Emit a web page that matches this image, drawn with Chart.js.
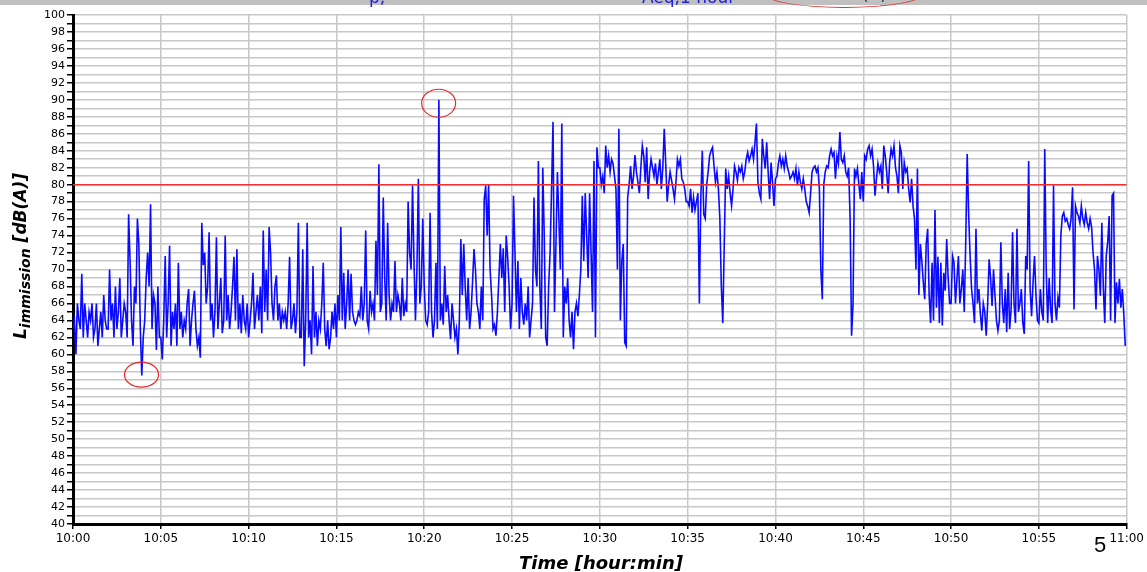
<!DOCTYPE html>
<html><head><meta charset="utf-8">
<script src="https://cdn.jsdelivr.net/npm/chart.js@4"></script>
<style>
html,body{margin:0;padding:0;background:#fff;}
#wrap{position:relative;width:1147px;height:572px;overflow:hidden;background:#fff;}
#band{position:absolute;left:0;top:0;width:1147px;height:5px;background:#c0c0c0;}
#c{position:absolute;left:0;top:0;}
.hdr{position:absolute;font-family:"DejaVu Sans",sans-serif;font-size:17px;line-height:17px;white-space:nowrap;color:#2020e0;}
#oval{position:absolute;left:763px;top:-22px;width:160px;height:28px;border:1.5px solid #e03030;border-radius:50%;}
#ytitle{position:absolute;left:-80px;top:246px;width:200px;height:20px;line-height:20px;text-align:center;transform:rotate(-90deg);font-family:"DejaVu Sans",sans-serif;font-weight:bold;font-style:italic;font-size:17px;color:#000;white-space:nowrap;}
#ytitle sub{font-size:14px;vertical-align:-4px;}
#xtitle{position:absolute;left:401px;top:554px;width:400px;text-align:center;line-height:18px;font-family:"DejaVu Sans",sans-serif;font-weight:bold;font-style:italic;font-size:18px;color:#000;white-space:nowrap;}
#page{position:absolute;left:1094px;top:533px;font-family:"Liberation Sans",Arial,sans-serif;font-size:22px;line-height:24px;color:#000;}
</style></head>
<body><div id="wrap">
<div id="band"></div>
<canvas id="c" width="1147" height="572"></canvas>
<div class="hdr" style="left:369px;top:-11px;">p,</div>
<div class="hdr" style="left:642px;top:-11px;">Aeq,1 hour</div>
<div class="hdr" style="left:862px;top:-14px;color:#303060;">(A)</div>
<div id="oval"></div>
<div id="ytitle">L<sub>immission</sub> [dB(A)]</div>
<div id="xtitle">Time [hour:min]</div>
<div id="page">5</div>
</div>
<script>
// Sound level L (dB(A)), one value every 5 s, grouped in 5-minute blocks
const seg1000 = [63,64,60,66,64,63,69.5,62,66,64,62,65, 64,66,62,63,66,61,63,65,62,67,64,63, 63,70,64,66,62,68,63,65,69,62,64,66, 65,62,76.5,71,64,61,68,66,76,73,63,57.5, 62,64,69,72,68,77.7,63,67,66,60.5,68,62];
const seg1005 = [62,59.4,64,71.6,62,66,72.8,61,65,63,66,61, 70.8,63,65,62,64,63,66,67.7,61,64,66,67.5, 63,61,62,59.6,75.5,70.5,72,66,68,74.4,64,66, 62,65,73.8,63,66,69,62.5,64,74,64,67,63, 65,68,71.5,64,72.4,63,66,62.5,67,64,63,66];
const seg1010 = [62,64,66,69.6,63,65,67,64,68,62.5,74.6,65, 70,64,75,72,66,64,68,69.3,64,66,63,65, 64,65,63,66,71.5,63,64,66,62.5,65,75.5,62, 62,72.4,58.6,64,75.5,62,64,60,70.4,62,65,61, 64,63,66,70.8,63,61,64,60.6,62,65,63,66];
const seg1015 = [62,67,64,75,64,69.6,63,66,70,64,69.5,65, 64,63.5,64,65,64.5,68,64,66,74.6,64,63,67.5, 65,66,64,73.4,67,82.4,65,66,78.5,69,64,75.5, 67,64,66,65,71,65,67,66,64,69,64.5,66, 65,78,72,70,79.9,71,64,70,80.7,66,68,76];
const seg1020 = [68,64,63.5,65,76.7,65,62,64,70.8,63,90,64, 66,63.5,70.4,65,67,64,61.8,66,64,62,63,60, 64,73.6,67,73,68,64,69,63,65,68.5,72.4,70, 66,65,63,68,64,78.3,79.9,74,80,70,67,63, 63.5,62.2,65,69,73,69,72.5,65,74,71.5,68,63];
const seg1025 = [66,78.7,72,65,71,63,69,65,63.5,66,64,68, 62,64,66,78.5,70,68,82.8,68,63,82,74,62, 61,68,72,79.5,87.4,65,73,81.5,76,70,87.2,62, 68,66,69,64,62,65,60.6,65,66,64.5,67,70, 78.7,71,79,74,69,79,72,65,82.8,62,84.4,82];
const seg1030 = [82,80,81,79,84.6,82,83.4,81.5,83,82.5,81,79.5, 70,86.6,64,71,73,61.4,61,78.5,80,82.2,79.5,81, 83.5,81.5,80.3,79,82,84.6,83.4,80.3,84.4,78.3,81.5,83, 82,81,82.5,80,81.5,83,79.5,82,86.6,82.5,78,80, 81.5,80.5,79.5,78.3,80.3,83,82.2,83,80.7,80.3,79.5,78];
const seg1035 = [78,77.5,79.5,76.7,78.5,77,78,79,66,78.5,84,76.5, 76,80,81.5,83.4,84,84.4,82.2,80.3,81.5,79.5,76,68, 63.7,73,81.9,79.5,81,79,77.5,79.5,82.2,81.5,80.5,82, 81.5,82.2,80.7,81.5,83,83.8,82.8,83.4,84.2,83,85,87.2, 80.3,79,78.3,85.4,83.4,81.9,85,81.5,78.3,82.6,80.3,77.5];
const seg1040 = [80.7,81,82.5,83.4,82.2,83,81.9,83.4,82.2,81.5,80.7,81, 81.5,80.7,81.9,79.9,81.5,80.3,79.5,80.7,79.5,78,77.5,76.7, 79,81.5,82,82.2,81.5,82,79.5,70,66.5,80,81.5,82.2, 82,83.4,84.2,83.4,83.8,80.7,83.4,82.5,86.2,83,82.6,83.4, 81.5,81,82,76,62.2,66,81.9,81,81.9,80,78.3,81.5];
const seg1045 = [78,83.4,83,84.2,84.6,83.4,84.2,82.2,78.7,80.7,82.5,81.5, 82.2,79.5,84.6,83.4,81.5,79,82.6,84.2,83.4,84.6,82,81, 79,84.6,83.8,79.5,82.6,81.5,81.9,79.5,77.9,80.7,77.5,76, 70,81.9,67,73,71,68.5,66.5,73,74.8,67,63.7,70.8, 64,77,65.5,71.5,63.7,70.8,63.4,69.6,67.5,73.6,69,66];
const seg1050 = [66,71.6,70.8,66,68.9,71.6,66,67.7,70,65,73.2,83.6, 76.5,71.6,67.7,66,63.7,74.8,66,67.7,64.8,62.8,66,65, 62.2,66,71.2,69,65.7,70,66.9,64,62.8,64,73.2,66, 63.7,67.7,62.6,69.6,63,65.3,74.4,66,63.7,74.8,65,66, 67.7,63.7,62.4,71.6,70,82.8,67.7,64.5,68.5,71.6,67,64];
const seg1055 = [63.7,67.7,65,64,84.2,70,63.7,69,65.3,63.7,79.9,66, 64,66.7,65.5,74,76.3,76.7,75.7,76,75.3,74.8,76,79.7, 65.3,77.5,76.7,76.3,75.5,77.5,76,75.3,76.7,75.5,74.8,76, 75,72,70,65.3,71.6,70,66.9,75.5,68,63.7,71.6,73.2, 76.3,64,78.7,79,63.7,68.5,66,68.9,65.5,67.7,64.8,61];

const stepSeconds = 5;
const limitLevel = 80;
const xTickLabels = ['10:00','10:05','10:10','10:15','10:20','10:25','10:30','10:35','10:40','10:45','10:50','10:55','11:00'];
const markedPoints = [{x:3.9, y:57.6, rx:17, ry:12.5}, {x:20.82, y:89.6, rx:17, ry:14}];

const levels = [].concat(seg1000,seg1005,seg1010,seg1015,seg1020,seg1025,seg1030,seg1035,seg1040,seg1045,seg1050,seg1055);
const levelPoints = levels.map((v,i)=>({x:i*stepSeconds/60, y:v}));
const limitPoints = [{x:0,y:limitLevel},{x:60,y:limitLevel}];

const ellipsePlugin = {
  id:'ellipses',
  afterDatasetsDraw(chart){
    const {ctx, scales:{x,y}} = chart;
    ctx.save();
    ctx.strokeStyle = '#e82828';
    ctx.lineWidth = 1.2;
    markedPoints.forEach(p=>{
      ctx.beginPath();
      ctx.ellipse(x.getPixelForValue(p.x), y.getPixelForValue(p.y), p.rx, p.ry, 0, 0, Math.PI*2);
      ctx.stroke();
    });
    ctx.restore();
  }
};

new Chart(document.getElementById('c'), {
  type:'line',
  data:{datasets:[
    {data:limitPoints, borderColor:'#ee3030', borderWidth:1.5, pointRadius:0, order:0},
    {data:levelPoints, borderColor:'#0a0aff', borderWidth:1.6, pointRadius:0, tension:0, order:1}
  ]},
  options:{
    responsive:false, animation:false, events:[],
    layout:{padding:{left:0,top:15,right:19,bottom:0}},
    plugins:{legend:{display:false}, tooltip:{enabled:false}, title:{display:false}},
    scales:{
      x:{type:'linear', min:0, max:60,
        afterFit(s){ s.height = 48; },
        ticks:{stepSize:5, autoSkip:false, maxRotation:0, padding:3, color:'#000',
          font:{family:'DejaVu Sans', size:12},
          callback:(v)=> xTickLabels[Math.round(v/5)]},
        grid:{color:'#c8c8c8', lineWidth:1.5, tickColor:'#000', tickLength:5, tickWidth:1.5},
        border:{color:'#000', width:3}
      },
      y:{type:'linear', min:40, max:100,
        afterFit(s){ s.width = 73; },
        ticks:{stepSize:1, maxTicksLimit:100, autoSkip:false, padding:2, color:'#000',
          font:{family:'DejaVu Sans', size:11},
          callback:(v)=> (v%2===0 ? String(v) : '')},
        grid:{color:'#c8c8c8', lineWidth:1.5, tickColor:'#000', tickLength:6, tickWidth:1.5},
        border:{color:'#000', width:3}
      }
    }
  },
  plugins:[ellipsePlugin]
});
</script>
</body></html>
